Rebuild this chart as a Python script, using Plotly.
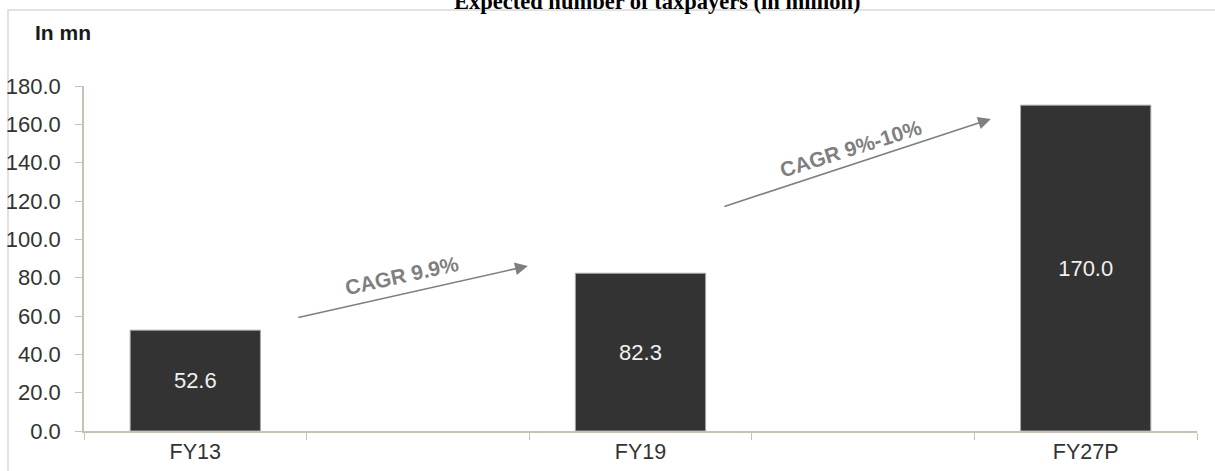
import plotly.graph_objects as go

# Data
categories = ["FY13", "FY19", "FY27P"]
axis_slots = ["FY13", " ", "FY19", "  ", "FY27P"]
values = [52.6, 82.3, 170.0]
value_labels = ["52.6", "82.3", "170.0"]
y_ticks = [0, 20, 40, 60, 80, 100, 120, 140, 160, 180]
cagr_texts = ["CAGR 9.9%", "CAGR 9%-10%"]
title_text = "Expected number of taxpayers (in million)"
unit_text = "In mn"

W, H = 1215, 471
ml, mr, mt, mb = 84, 18, 86, 40
pw = W - ml - mr
ph = H - mt - mb

def px_to_paper_x(px):
    return (px - ml) / pw

def px_to_paper_y(py):
    return (H - mb - py) / ph

FONT = "Arial, Liberation Sans"

fig = go.Figure()
fig.add_trace(go.Bar(
    x=categories, y=values, text=value_labels,
    textposition="inside", insidetextanchor="middle",
    textfont=dict(family=FONT, size=22, color="#f0f0f0"),
    marker=dict(color="#333333", line=dict(color="#a6a6a6", width=1)),
    width=0.585, showlegend=False, hoverinfo="skip",
))

axis_col = "#c8c1b6"
fig.update_xaxes(
    type="category", categoryorder="array", categoryarray=axis_slots,
    range=[-0.5, 4.5], showline=True, linecolor=axis_col, linewidth=1.5,
    ticks="outside", tickson="boundaries", ticklen=7, tickcolor=axis_col,
    tickfont=dict(family=FONT, size=21.5, color="#333333"),
    showgrid=False, zeroline=False, fixedrange=True,
)
fig.update_yaxes(
    range=[0, 180], tickvals=y_ticks, tickformat=".1f",
    showline=True, linecolor=axis_col, linewidth=1.5,
    ticks="outside", ticklen=7, tickcolor=axis_col, ticklabelstandoff=10,
    tickfont=dict(family=FONT, size=22, color="#333333"),
    showgrid=False, zeroline=False, fixedrange=True,
)

annotations = []
# Title (partly cut at the top, as in the reference)
annotations.append(dict(
    text=f"<b>{title_text}</b>", xref="paper", yref="paper",
    x=px_to_paper_x(657), y=px_to_paper_y(16), xanchor="center", yanchor="bottom",
    showarrow=False, font=dict(family="Liberation Serif, Times New Roman", size=22.5, color="#000000"),
))
annotations.append(dict(
    text=f"<b>{unit_text}</b>", xref="paper", yref="paper",
    x=px_to_paper_x(33), y=px_to_paper_y(32), xanchor="left", yanchor="middle",
    showarrow=False, font=dict(family=FONT, size=21, color="#1a1a1a"),
))

# CAGR arrows (positions in category-index / data units)
arrows = [((0.456, 59.0), (1.494, 86.1)), ((2.370, 116.9), (3.574, 162.8))]
for (tx, ty), (hx, hy) in arrows:
    annotations.append(dict(
        x=hx, y=hy, ax=tx, ay=ty, xref="x", yref="y", axref="x", ayref="y",
        showarrow=True, arrowhead=2, arrowsize=1.6, arrowwidth=1.6, arrowcolor="#7f7f7f",
        text="",
    ))
cagr_pos = [(0.93, 81.0, -12.4), (2.945, 147.5, -17.5)]
for t, (cx, cy, ang) in zip(cagr_texts, cagr_pos):
    annotations.append(dict(
        text=f"<b>{t}</b>", x=cx, y=cy, xref="x", yref="y", showarrow=False,
        textangle=ang, font=dict(family=FONT, size=21, color="#7f7f7f"),
    ))

shapes = [dict(
    type="rect", xref="paper", yref="paper",
    x0=px_to_paper_x(8), x1=px_to_paper_x(1230), y0=px_to_paper_y(480), y1=px_to_paper_y(10),
    line=dict(color="#d9d9d9", width=1.5), fillcolor="rgba(0,0,0,0)", layer="below",
)]

fig.update_layout(
    width=W, height=H, margin=dict(l=ml, r=mr, t=mt, b=mb, autoexpand=False),
    paper_bgcolor="white", plot_bgcolor="white",
    annotations=annotations, shapes=shapes, bargap=0.4,
)

fig.write_html(
    "out.html",
    config={"displayModeBar": False},
    post_script="document.body.style.margin='0';document.body.style.overflow='hidden';",
)
